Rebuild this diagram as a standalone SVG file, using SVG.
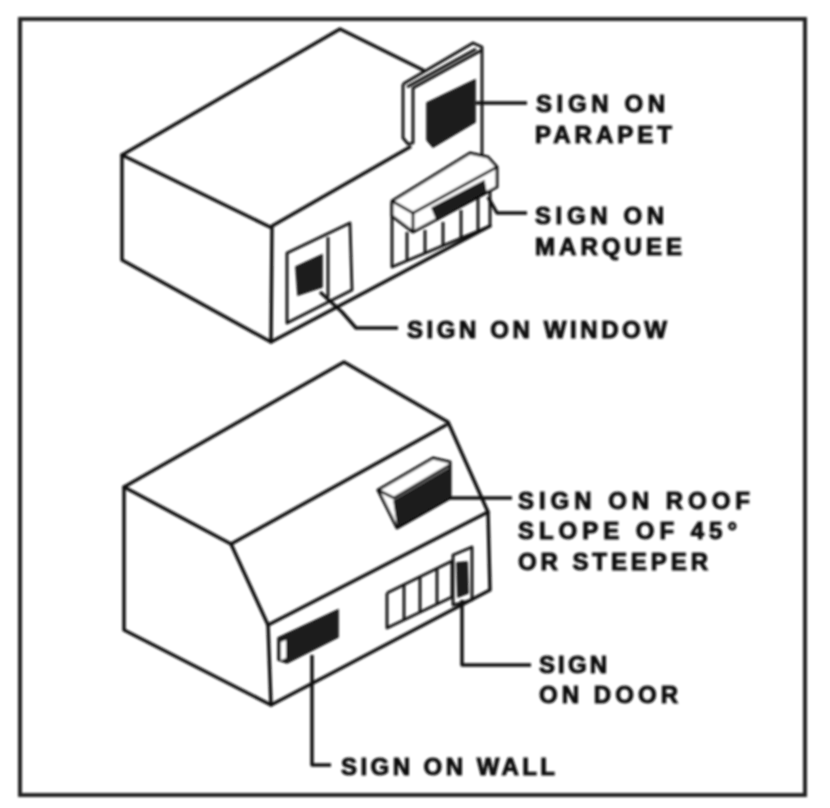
<svg xmlns="http://www.w3.org/2000/svg" width="830" height="808" viewBox="0 0 830 808">
<style>
.l{fill:none;stroke:#111;stroke-width:3.5;stroke-linejoin:round;stroke-linecap:round}
.t{fill:none;stroke:#111;stroke-width:2.8;stroke-linejoin:round}
.w{fill:#fff;stroke:#111;stroke-width:3;stroke-linejoin:round}
.d{fill:#1a1a1a;stroke:#111;stroke-width:1.5}
.c{fill:none;stroke:#111;stroke-width:3.5;stroke-linejoin:round}
text{font-family:"Liberation Sans",Arial,sans-serif;font-weight:700;font-size:24px;fill:#111;stroke:#111;stroke-width:1}
</style>
<defs><filter id="soft" filterUnits="userSpaceOnUse" x="0" y="0" width="830" height="808"><feGaussianBlur stdDeviation="0.8"/></filter></defs>
<rect width="830" height="808" fill="#fff"/>
<g filter="url(#soft)">
<rect id="frame" x="20" y="19" width="785" height="776" fill="none" stroke="#222" stroke-width="4"/>
<g id="building-top">
<path class="l" d="M122 155 L340 29 L423 70"/>
<path class="l" d="M122 155 L122 260 L271 342 L272 228 L122 155"/>
<path class="l" d="M272 226 L410 147"/>
<path class="l" d="M271 342 L490 226"/>
</g>
<g id="parapet">
<path class="t" d="M403 84 L473 43 L482 47 L482 158"/>
<path class="t" d="M403 84 L403 138 L408 144 L413 143 L413 88 L482 50"/>
<path class="t" d="M407 87 L476 49"/>
<path class="d" d="M427 103 L475 80 L475 122 L433 147 L427 140 Z"/>
</g>
<g id="marquee">
<path class="t" d="M392 203 L392 267 L490 226 L490 190"/>
<path class="t" d="M407 232 L407 260 M425 230 L425 252 M443 222 L443 246 M461 210 L461 238 M478 198 L478 230"/>
<path class="w" d="M392 201 L470 153 L488 157 L497 167 L497 187 L413 232 L392 216 Z"/>
<path class="t" d="M392 201 L413 213 L497 167"/>
<path class="t" d="M413 213 L413 232"/>
<path class="d" d="M432 208 L484 181 L486 192 L437 220 Z"/>
</g>
<g id="window">
<path class="t" d="M287 253 L350 223 L352 290 L287 323 Z"/>
<path class="t" d="M328 237 L328 297"/>
<path class="d" d="M296 267 L322 255 L322 287 L298 295 Z"/>
</g>
<g id="building-bottom">
<path class="l" d="M124 487 L344 362 L448 422 L488 512 L490 590 L271 705 L124 630 Z"/>
<path class="l" d="M124 487 L231 544 L268 625 L271 705"/>
<path class="l" d="M231 544 L446 425"/>
<path class="l" d="M268 625 L488 512"/>
</g>
<g id="roof-sign">
<path class="w" d="M378 490 L433 458 L450 462 L450 498 L397 528 Z"/>
<path class="d" d="M394 501 L450 468 L450 498 L398 527 Z"/>
<path class="t" d="M378 490 L394 498 L450 465"/>
</g>
<g id="windows-door">
<path class="t" d="M387 593 L387 628 L452 597 M387 593 L452 561 M404 585 L404 619 M420 577 L420 612 M437 569 L437 604 M452 561 L452 597"/>
<path class="t" d="M453 555 L472 547 L472 600 L453 605 Z"/>
<path class="d" d="M457 563 L467 562 L468 593 L458 597 Z"/>
</g>
<g id="wall-sign">
<path class="d" d="M278 638 L338 610 L338 637 L287 663 L278 660 Z"/>
<path d="M281 642 L286 640 L286 658 L281 660 Z" fill="#fff"/>
</g>
<g id="connectors">
<path class="c" d="M476 103 L527 103"/>
<path class="c" d="M488 197 L497 213 L527 213"/>
<path class="c" d="M320 292 L342 312 L356 328 L398 328"/>
<path class="c" d="M450 498 L512 498"/>
<path class="c" d="M462 600 L462 665 L531 665"/>
<path class="c" d="M312 655 L312 765 L331 765"/>
</g>
<g id="labels">
<text x="536" y="112" textLength="129">SIGN ON</text>
<text x="535" y="143" textLength="137">PARAPET</text>
<text x="535" y="224" textLength="129">SIGN ON</text>
<text x="535" y="255" textLength="147">MARQUEE</text>
<text x="407" y="338" textLength="260">SIGN ON WINDOW</text>
<text x="518" y="509" textLength="232">SIGN ON ROOF</text>
<text x="518" y="539" textLength="219">SLOPE OF 45°</text>
<text x="518" y="570" textLength="190">OR STEEPER</text>
<text x="539" y="673" textLength="68">SIGN</text>
<text x="539" y="703" textLength="139">ON DOOR</text>
<text x="341" y="775" textLength="214">SIGN ON WALL</text>
</g>
</g>
</svg>
